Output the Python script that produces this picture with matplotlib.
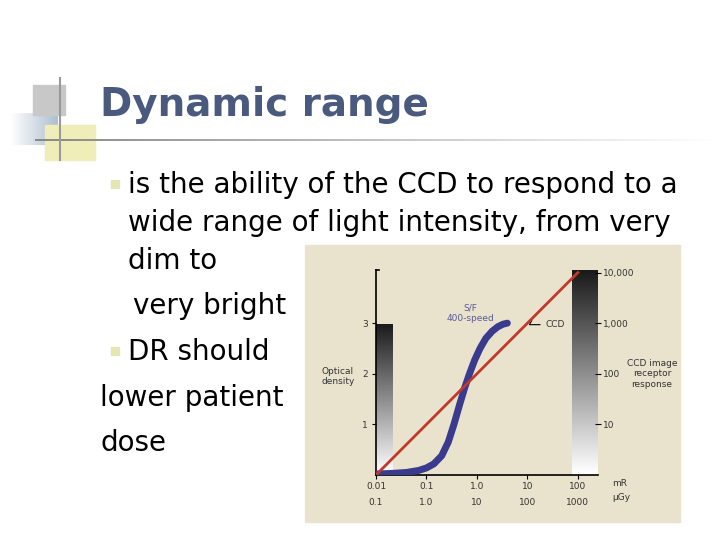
import numpy as np
import matplotlib
matplotlib.use("Agg")
import matplotlib.pyplot as plt
from matplotlib.patches import Rectangle
from matplotlib.path import Path
from matplotlib.patches import PathPatch

# ---- data ----
sf_mr = [0.01, 0.02, 0.04, 0.07, 0.1, 0.14, 0.2, 0.27, 0.35, 0.45, 0.57, 0.7, 0.9, 1.15, 1.5, 2.0, 2.6, 3.3, 4.0]
sf_od = [0.02, 0.03, 0.05, 0.09, 0.14, 0.22, 0.38, 0.65, 1.0, 1.38, 1.72, 1.98, 2.27, 2.5, 2.7, 2.84, 2.93, 2.98, 3.0]
ccd_mr = [0.01, 100]
ccd_resp = [1, 10000]
x_ticks = [0.01, 0.1, 1.0, 10, 100]
x_labels = ["0.01\n0.1", "0.1\n1.0", "1.0\n10", "10\n100", "100\n1000"]
od_ticks = [1, 2, 3]
resp_ticks = [10, 100, 1000, 10000]
resp_labels = ["10", "100", "1,000", "10,000"]

W, H = 720, 540
fig = plt.figure(figsize=(7.2, 5.4), dpi=100)
fig.patch.set_facecolor("white")

def fx(px): return px / W
def fy(py): return 1 - py / H

deco = fig.add_axes([0, 0, 1, 1]); deco.axis("off")
deco.add_patch(Rectangle((33, 85), 32, 30, color="#c8c8c8"))
deco.imshow(np.linspace(0, 1, 50).reshape(1, -1), extent=(10, 58, 145, 113),
            cmap=matplotlib.colors.LinearSegmentedColormap.from_list("b", ["#ffffff", "#aebfd0"]), aspect="auto")
deco.add_patch(Rectangle((45, 125), 50, 35, color="#f0eeb8", zorder=0))
deco.plot([60, 60], [78, 160], color="#999999", lw=1.5)
deco.imshow(np.linspace(1, 0, 100).reshape(1, -1), extent=(35, 720, 141, 139),
            cmap=matplotlib.colors.LinearSegmentedColormap.from_list("g", ["#ffffff", "#888888"]), aspect="auto")
deco.set_xlim(0, W); deco.set_ylim(H, 0)

fig.text(fx(100), fy(105), "Dynamic range", fontsize=28, fontweight="bold", color="#4a5a7e", va="center", family="DejaVu Sans")
lines = [(128, 185, "is the ability of the CCD to respond to a", True),
         (128, 223, "wide range of light intensity, from very", False),
         (128, 261, "dim to", False),
         (133, 306, "very bright", False),
         (128, 352, "DR should", True),
         (100, 398, "lower patient", False),
         (100, 443, "dose", False)]
for x, y, t, b in lines:
    fig.text(fx(x), fy(y), t, fontsize=20, color="black", va="center", family="DejaVu Sans")
    if b:
        deco.add_patch(Rectangle((111, y - 5), 8, 8, color="#e6e6b4"))

deco.add_patch(Rectangle((305, 245), 375, 277, color="#e9e2cc", zorder=0))

x0, x1, y0, y1 = 376, 598, 270, 475
ax = fig.add_axes([fx(x0), fy(y1), fx(x1) - fx(x0), fy(y0) - fy(y1)])
ax.set_facecolor("none")
ax.set_xscale("log")
for s in ["top", "right"]:
    ax.spines[s].set_visible(False)
ax.spines["left"].set_linewidth(1.2)
ax.spines["bottom"].set_linewidth(1.2)
ax.plot([0.01, 0.0115], [4.05, 4.05], color="black", lw=1.2, clip_on=False)

ax.set_yticks(od_ticks)
ax.set_yticklabels([str(t) for t in od_ticks], fontsize=6.5, color="#333333")
ax.tick_params(axis="y", length=3, direction="out", pad=3)
ax.set_xticks(x_ticks)
ax.set_xticklabels(x_labels, fontsize=6.5, color="#333333", linespacing=2.0)
ax.tick_params(axis="x", length=3, direction="out", pad=2)
ax.minorticks_off()

cm = matplotlib.colors.LinearSegmentedColormap.from_list("gr", ["#ffffff", "#1a1a1a"])
ax.imshow(np.linspace(0, 1, 100).reshape(-1, 1), extent=(0.01, 0.022, 0, 3), origin="lower",
          cmap=cm, aspect="auto", zorder=1)
ax.imshow(np.linspace(0, 1, 100).reshape(-1, 1), extent=(75, 250, 0, 4.05), origin="lower",
          cmap=cm, aspect="auto", zorder=1)
ax.set_xlim(0.01, 250); ax.set_ylim(0, 4.05)

ax.plot(sf_mr, sf_od, color="#3a3a8e", lw=5, solid_capstyle="round", solid_joinstyle="round", zorder=3)

ax2 = ax.twinx()
ax2.set_yscale("log")
ax2.set_ylim(1, 10 ** 4.05)
for s in ["top", "left", "bottom", "right"]:
    ax2.spines[s].set_visible(False)
ax2.set_yticks(resp_ticks)
ax2.set_yticklabels(resp_labels, fontsize=6.5, color="#333333")
ax2.tick_params(axis="y", length=5, direction="inout", pad=1)
ax2.minorticks_off()
ax2.plot(ccd_mr, ccd_resp, color="#c0392b", lw=2, zorder=4)

ax.text(0.00085, 1.95, "Optical\ndensity", fontsize=6.5, color="#333333", va="center", ha="left")
fig.text(fx(652), fy(374), "CCD image\nreceptor\nresponse", fontsize=6.5, color="#333333", ha="center", va="center")
ax.text(0.75, 3.2, "S/F\n400-speed", fontsize=6.5, color="#5a5aa0", ha="center", va="center")
ax.annotate("CCD", xy=(13, 3.1), xytext=(23, 2.97), fontsize=6.5, color="#333333", va="center",
            arrowprops=dict(arrowstyle="-", color="black", lw=0.8, connectionstyle="angle,angleA=0,angleB=60"))
fig.text(fx(612), fy(483), "mR", fontsize=6.5, color="#333333", va="center")
fig.text(fx(612), fy(498), "µGy", fontsize=6.5, color="#333333", va="center")

fig.savefig("out.png", dpi=100)
